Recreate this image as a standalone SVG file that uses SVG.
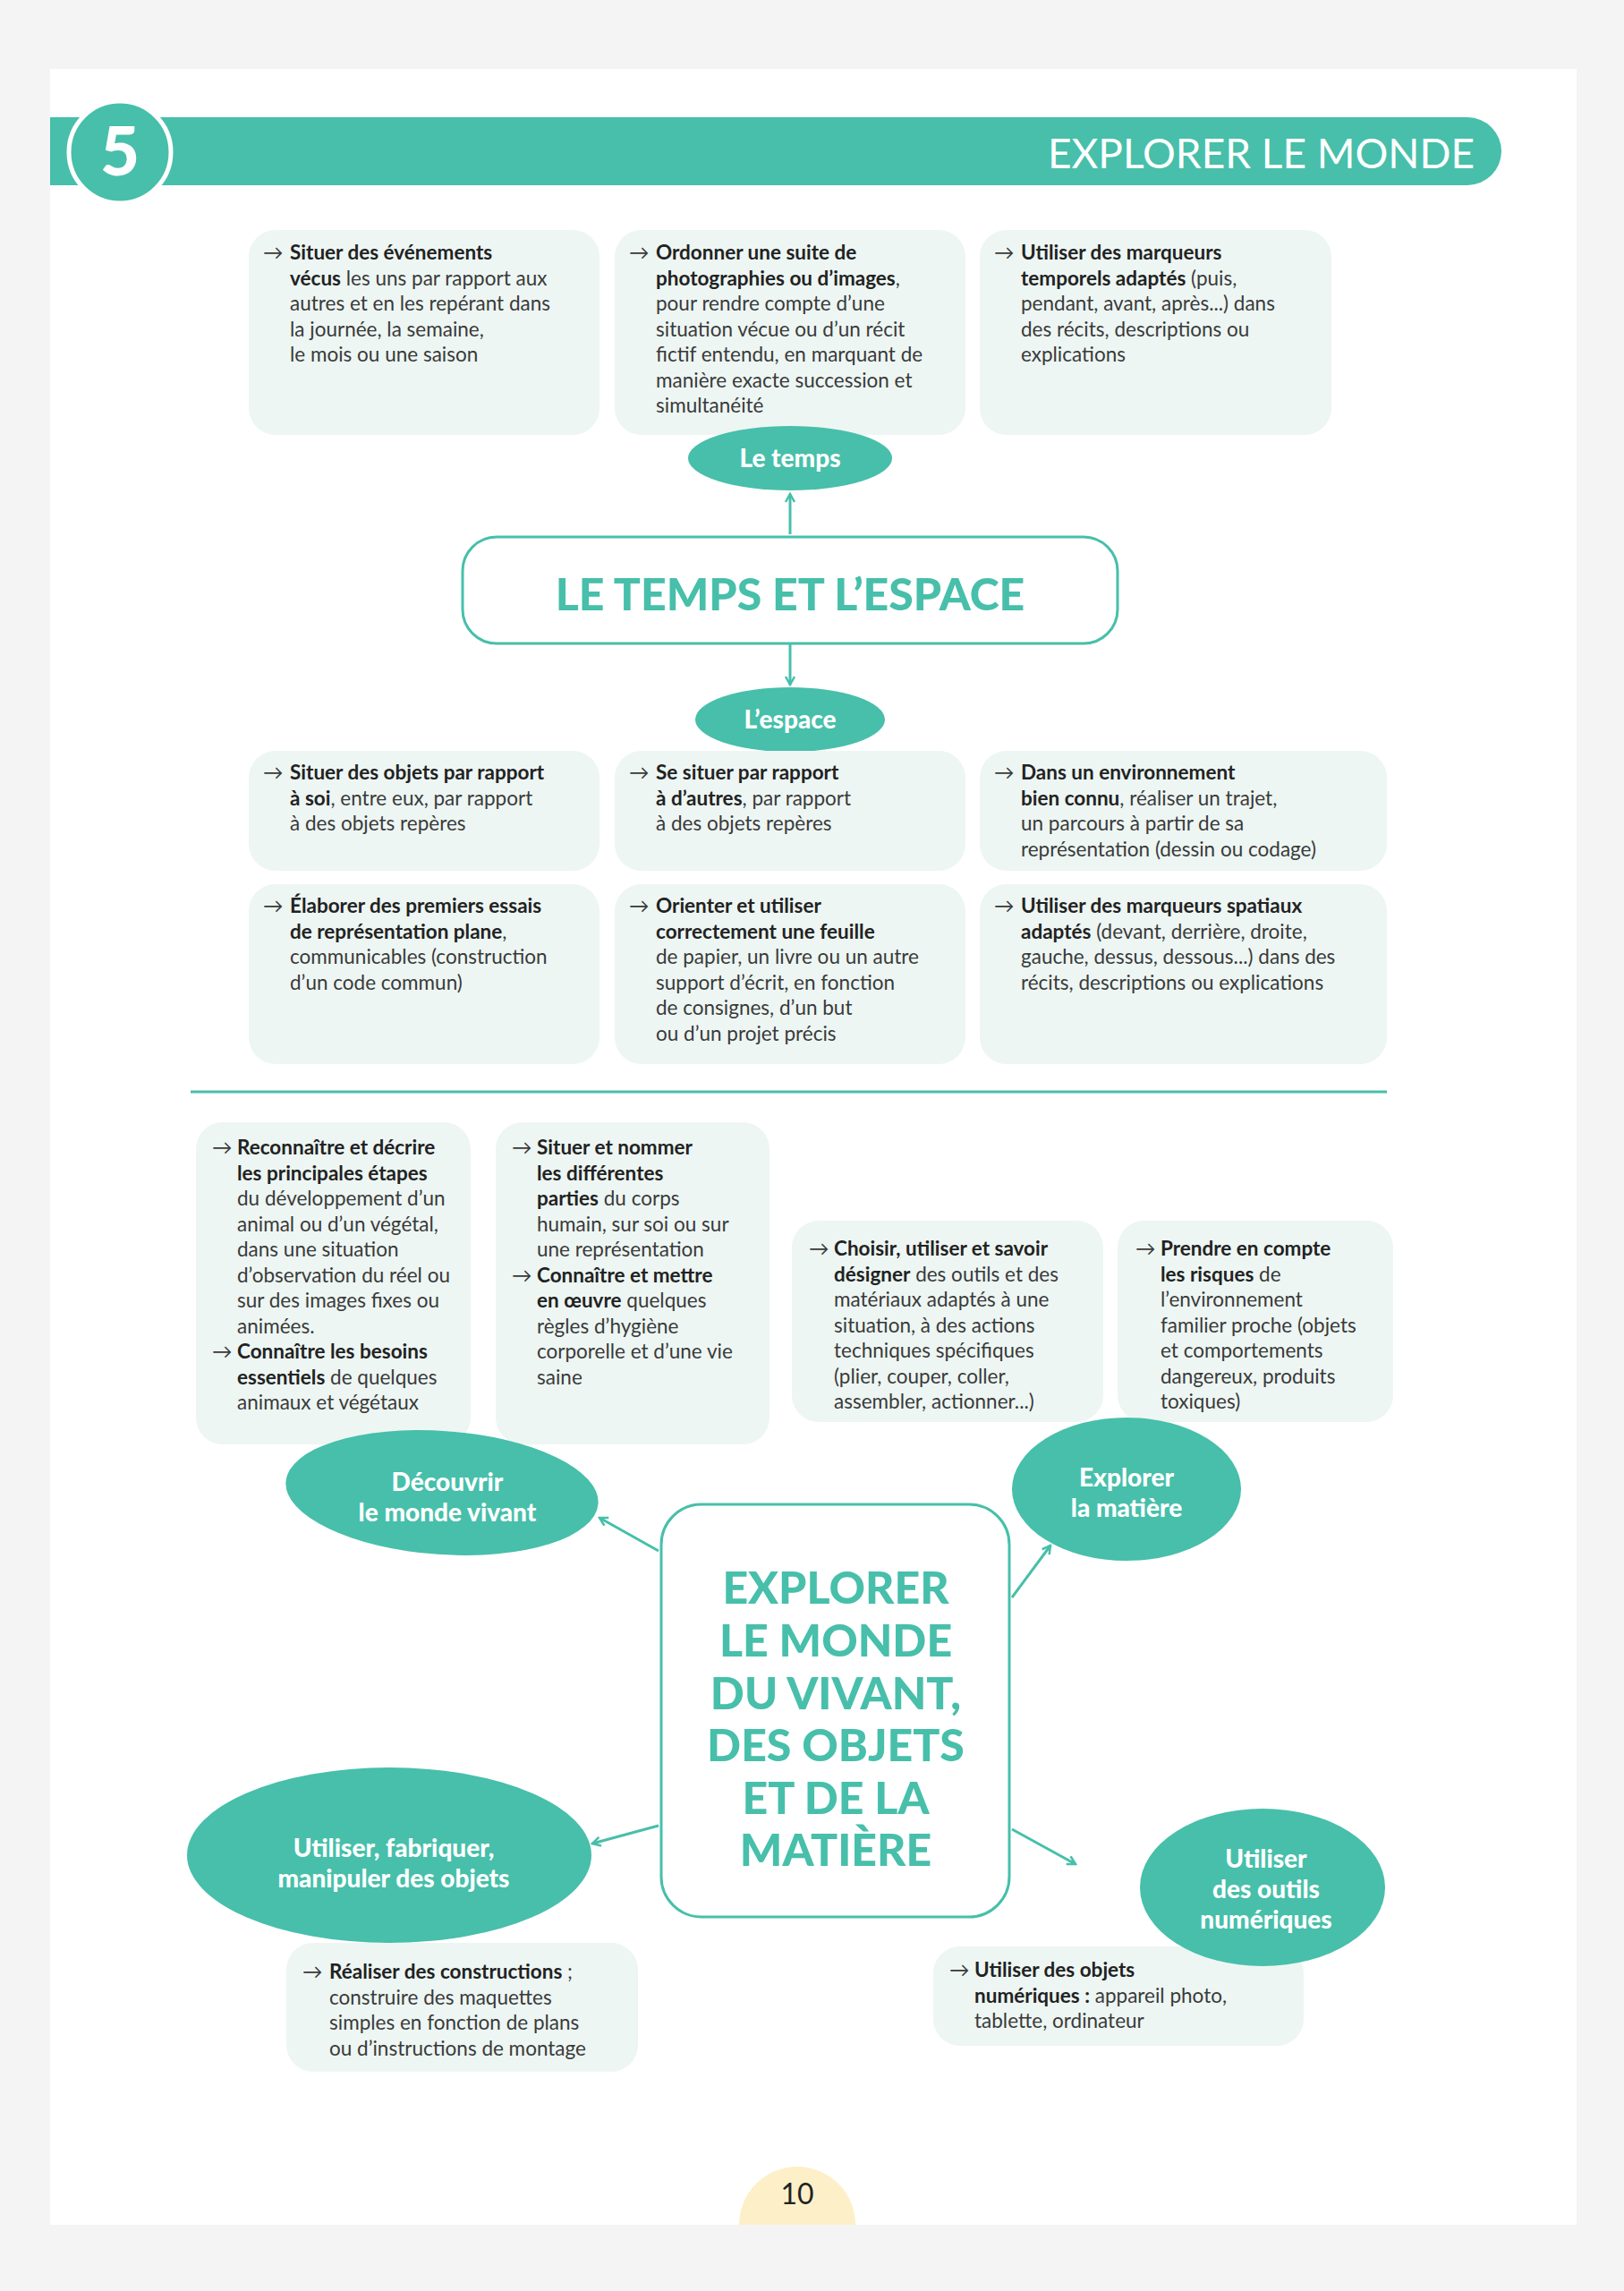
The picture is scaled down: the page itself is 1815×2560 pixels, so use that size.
<svg xmlns="http://www.w3.org/2000/svg" width="1815" height="2560" viewBox="0 0 1815 2560">
<defs>
<style>
.box{fill:#edf6f3}
.t{font-family:Lato,"Open Sans",sans-serif;font-size:22.5px;fill:#3a3a3a}
.b{font-weight:bold;fill:#222}
.blob{fill:#47bfaa}
.bl{font-family:Lato,"Open Sans",sans-serif;font-weight:900;font-size:28px;fill:#fff;text-anchor:middle}
.h{font-family:Lato,"Open Sans",sans-serif;font-weight:900;fill:#47bfaa;text-anchor:middle}
.con{stroke:#47bfaa;stroke-width:3;fill:none;marker-end:url(#ah)}
</style>
<marker id="ah" viewBox="0 0 12 12" refX="10" refY="6" markerWidth="12" markerHeight="12" markerUnits="userSpaceOnUse" orient="auto"><path d="M1,1 L10,6 L1,11" fill="none" stroke="#47bfaa" stroke-width="2.5"/></marker>
</defs>
<rect width="1815" height="2560" fill="#f4f4f4"/>
<rect x="56" y="77" width="1706" height="2409" fill="#fff"/>
<g id="header">
<path d="M56,131 H1640 A38,38 0 0 1 1640,207 H56 Z" fill="#47bfaa"/>
<circle cx="134" cy="170" r="57" fill="#47bfaa" stroke="#fff" stroke-width="5"/>
<text x="134" y="196" font-family="Lato,sans-serif" font-weight="900" font-size="76" fill="#fff" text-anchor="middle">5</text>
<text x="1648" y="188" font-family="Lato,sans-serif" font-size="46" fill="#fff" text-anchor="end">EXPLORER LE MONDE</text>
</g>
<g id="temps-boxes">
<rect class="box" x="278" y="257" width="392" height="229" rx="30"/>
<rect class="box" x="687" y="257" width="392" height="229" rx="30"/>
<rect class="box" x="1095" y="257" width="393" height="229" rx="30"/>
<text class="t"><tspan x="294" y="290">→</tspan><tspan x="324" y="290" class="b">Situer des événements</tspan><tspan x="324" y="319"><tspan class="b">vécus</tspan> les uns par rapport aux</tspan><tspan x="324" y="347">autres et en les repérant dans</tspan><tspan x="324" y="376">la journée, la semaine,</tspan><tspan x="324" y="404">le mois ou une saison</tspan></text>
<text class="t"><tspan x="703" y="290">→</tspan><tspan x="733" y="290" class="b">Ordonner une suite de</tspan><tspan x="733" y="319"><tspan class="b">photographies ou d’images</tspan>,</tspan><tspan x="733" y="347">pour rendre compte d’une</tspan><tspan x="733" y="376">situation vécue ou d’un récit</tspan><tspan x="733" y="404">fictif entendu, en marquant de</tspan><tspan x="733" y="433">manière exacte succession et</tspan><tspan x="733" y="461">simultanéité</tspan></text>
<text class="t"><tspan x="1111" y="290">→</tspan><tspan x="1141" y="290" class="b">Utiliser des marqueurs</tspan><tspan x="1141" y="319"><tspan class="b">temporels adaptés</tspan> (puis,</tspan><tspan x="1141" y="347">pendant, avant, après...) dans</tspan><tspan x="1141" y="376">des récits, descriptions ou</tspan><tspan x="1141" y="404">explications</tspan></text>
</g>
<g id="le-temps"><ellipse class="blob" cx="883" cy="512" rx="114" ry="36"/><text class="bl" x="883" y="522">Le temps</text></g>
<g id="main1"><rect x="517" y="600" width="732" height="119" rx="38" fill="#fff" stroke="#47bfaa" stroke-width="3"/><text class="h" x="883" y="682" font-size="50">LE TEMPS ET L’ESPACE</text></g>
<g id="l-espace"><ellipse class="blob" cx="883" cy="804" rx="106" ry="36"/><text class="bl" x="883" y="814">L’espace</text></g>
<g id="espace-boxes">
<rect class="box" x="278" y="839" width="392" height="134" rx="30"/>
<rect class="box" x="687" y="839" width="392" height="134" rx="30"/>
<rect class="box" x="1095" y="839" width="455" height="134" rx="30"/>
<rect class="box" x="278" y="988" width="392" height="201" rx="30"/>
<rect class="box" x="687" y="988" width="392" height="201" rx="30"/>
<rect class="box" x="1095" y="988" width="455" height="201" rx="30"/>
<text class="t"><tspan x="294" y="871">→</tspan><tspan x="324" y="871" class="b">Situer des objets par rapport</tspan><tspan x="324" y="900"><tspan class="b">à soi</tspan>, entre eux, par rapport</tspan><tspan x="324" y="928">à des objets repères</tspan></text>
<text class="t"><tspan x="703" y="871">→</tspan><tspan x="733" y="871" class="b">Se situer par rapport</tspan><tspan x="733" y="900"><tspan class="b">à d’autres</tspan>, par rapport</tspan><tspan x="733" y="928">à des objets repères</tspan></text>
<text class="t"><tspan x="1111" y="871">→</tspan><tspan x="1141" y="871" class="b">Dans un environnement</tspan><tspan x="1141" y="900"><tspan class="b">bien connu</tspan>, réaliser un trajet,</tspan><tspan x="1141" y="928">un parcours à partir de sa</tspan><tspan x="1141" y="957">représentation (dessin ou codage)</tspan></text>
<text class="t"><tspan x="294" y="1020">→</tspan><tspan x="324" y="1020" class="b">Élaborer des premiers essais</tspan><tspan x="324" y="1049"><tspan class="b">de représentation plane</tspan>,</tspan><tspan x="324" y="1077">communicables (construction</tspan><tspan x="324" y="1106">d’un code commun)</tspan></text>
<text class="t"><tspan x="703" y="1020">→</tspan><tspan x="733" y="1020" class="b">Orienter et utiliser</tspan><tspan x="733" y="1049" class="b">correctement une feuille</tspan><tspan x="733" y="1077">de papier, un livre ou un autre</tspan><tspan x="733" y="1106">support d’écrit, en fonction</tspan><tspan x="733" y="1134">de consignes, d’un but</tspan><tspan x="733" y="1163">ou d’un projet précis</tspan></text>
<text class="t"><tspan x="1111" y="1020">→</tspan><tspan x="1141" y="1020" class="b">Utiliser des marqueurs spatiaux</tspan><tspan x="1141" y="1049"><tspan class="b">adaptés</tspan> (devant, derrière, droite,</tspan><tspan x="1141" y="1077">gauche, dessus, dessous...) dans des</tspan><tspan x="1141" y="1106">récits, descriptions ou explications</tspan></text>
</g>
<line x1="213" y1="1220" x2="1550" y2="1220" stroke="#47bfaa" stroke-width="3"/>
<g id="monde-boxes">
<rect class="box" x="219" y="1254" width="307" height="360" rx="30"/>
<rect class="box" x="554" y="1254" width="306" height="360" rx="30"/>
<rect class="box" x="885" y="1364" width="348" height="225" rx="30"/>
<rect class="box" x="1249" y="1364" width="308" height="225" rx="30"/>
<text class="t"><tspan x="237" y="1290">→</tspan><tspan x="265" y="1290" class="b">Reconnaître et décrire</tspan><tspan x="265" y="1319" class="b">les principales étapes</tspan><tspan x="265" y="1347">du développement d’un</tspan><tspan x="265" y="1376">animal ou d’un végétal,</tspan><tspan x="265" y="1404">dans une situation</tspan><tspan x="265" y="1433">d’observation du réel ou</tspan><tspan x="265" y="1461">sur des images fixes ou</tspan><tspan x="265" y="1490">animées.</tspan><tspan x="237" y="1518">→</tspan><tspan x="265" y="1518" class="b">Connaître les besoins</tspan><tspan x="265" y="1547"><tspan class="b">essentiels</tspan> de quelques</tspan><tspan x="265" y="1575">animaux et végétaux</tspan></text>
<text class="t"><tspan x="572" y="1290">→</tspan><tspan x="600" y="1290" class="b">Situer et nommer</tspan><tspan x="600" y="1319" class="b">les différentes</tspan><tspan x="600" y="1347"><tspan class="b">parties</tspan> du corps</tspan><tspan x="600" y="1376">humain, sur soi ou sur</tspan><tspan x="600" y="1404">une représentation</tspan><tspan x="572" y="1433">→</tspan><tspan x="600" y="1433" class="b">Connaître et mettre</tspan><tspan x="600" y="1461"><tspan class="b">en œuvre</tspan> quelques</tspan><tspan x="600" y="1490">règles d’hygiène</tspan><tspan x="600" y="1518">corporelle et d’une vie</tspan><tspan x="600" y="1547">saine</tspan></text>
<text class="t"><tspan x="904" y="1403">→</tspan><tspan x="932" y="1403" class="b">Choisir, utiliser et savoir</tspan><tspan x="932" y="1432"><tspan class="b">désigner</tspan> des outils et des</tspan><tspan x="932" y="1460">matériaux adaptés à une</tspan><tspan x="932" y="1489">situation, à des actions</tspan><tspan x="932" y="1517">techniques spécifiques</tspan><tspan x="932" y="1546">(plier, couper, coller,</tspan><tspan x="932" y="1574">assembler, actionner...)</tspan></text>
<text class="t"><tspan x="1269" y="1403">→</tspan><tspan x="1297" y="1403" class="b">Prendre en compte</tspan><tspan x="1297" y="1432"><tspan class="b">les risques</tspan> de</tspan><tspan x="1297" y="1460">l’environnement</tspan><tspan x="1297" y="1489">familier proche (objets</tspan><tspan x="1297" y="1517">et comportements</tspan><tspan x="1297" y="1546">dangereux, produits</tspan><tspan x="1297" y="1574">toxiques)</tspan></text>
<rect class="box" x="320" y="2171" width="393" height="144" rx="30"/>
<rect class="box" x="1043" y="2175" width="414" height="111" rx="30"/>
<text class="t"><tspan x="338" y="2211">→</tspan><tspan x="368" y="2211"><tspan class="b">Réaliser des constructions</tspan> ;</tspan><tspan x="368" y="2240">construire des maquettes</tspan><tspan x="368" y="2268">simples en fonction de plans</tspan><tspan x="368" y="2297">ou d’instructions de montage</tspan></text>
<text class="t"><tspan x="1061" y="2209">→</tspan><tspan x="1089" y="2209" class="b">Utiliser des objets</tspan><tspan x="1089" y="2238"><tspan class="b">numériques :</tspan> appareil photo,</tspan><tspan x="1089" y="2266">tablette, ordinateur</tspan></text>
</g>
<g id="connectors">
<line class="con" x1="883" y1="597" x2="883" y2="552"/>
<line class="con" x1="883" y1="719" x2="883" y2="765"/>
<line class="con" x1="736" y1="1733" x2="670" y2="1696"/>
<line class="con" x1="1131" y1="1785" x2="1174" y2="1727"/>
<line class="con" x1="736" y1="2040" x2="662" y2="2060"/>
<line class="con" x1="1131" y1="2044" x2="1202" y2="2083"/>
</g>
<g id="blob-vivant"><ellipse class="blob" cx="494" cy="1668" rx="175" ry="69" transform="rotate(4 494 1668)"/><text class="bl" x="500" y="1666">Découvrir</text><text class="bl" x="500" y="1700">le monde vivant</text></g>
<g id="blob-matiere"><ellipse class="blob" cx="1259" cy="1664" rx="128" ry="80"/><text class="bl" x="1259" y="1661">Explorer</text><text class="bl" x="1259" y="1695">la matière</text></g>
<g id="main2"><rect x="739" y="1681" width="389" height="461" rx="45" fill="#fff" stroke="#47bfaa" stroke-width="3"/>
<text class="h" font-size="50"><tspan x="934" y="1792">EXPLORER</tspan><tspan x="934" y="1851">LE MONDE</tspan><tspan x="934" y="1910">DU VIVANT,</tspan><tspan x="934" y="1968">DES OBJETS</tspan><tspan x="934" y="2027">ET DE LA</tspan><tspan x="934" y="2085">MATIÈRE</tspan></text></g>
<g id="blob-objets"><ellipse class="blob" cx="435" cy="2073" rx="226" ry="98"/><text class="bl" x="440" y="2075">Utiliser, fabriquer,</text><text class="bl" x="440" y="2109">manipuler des objets</text></g>
<g id="blob-numeriques"><ellipse class="blob" cx="1411" cy="2109" rx="137" ry="88"/><text class="bl" x="1415" y="2087">Utiliser</text><text class="bl" x="1415" y="2121">des outils</text><text class="bl" x="1415" y="2155">numériques</text></g>
<g id="page-num"><path d="M826,2486 A65,65 0 1 1 956,2486 Z" fill="#fdf0c8"/><text x="891" y="2463" font-family="Lato,sans-serif" font-size="32" fill="#222" text-anchor="middle">10</text></g>
</svg>
